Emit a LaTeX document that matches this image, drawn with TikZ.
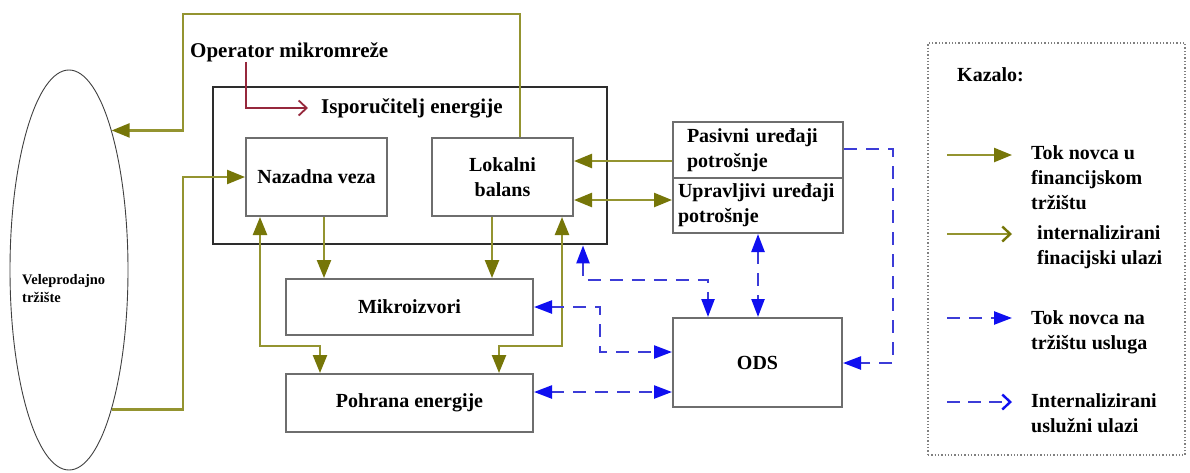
\documentclass[tikz,border=0pt]{standalone}
\usepackage{fontspec}
\setmainfont{Liberation Serif}
\usetikzlibrary{arrows.meta,shapes.geometric}
\definecolor{oliv}{RGB}{148,148,48}
\definecolor{olivtip}{RGB}{118,118,8}
\definecolor{bl}{RGB}{60,60,215}
\definecolor{bltip}{RGB}{15,15,240}
\definecolor{rd}{RGB}{150,40,60}
\definecolor{bxg}{RGB}{110,110,110}
\definecolor{bigg}{RGB}{45,45,45}
\tikzset{
  box/.style={draw=bxg, line width=2pt, fill=white, inner sep=0pt, align=center,
    font=\bfseries\fontsize{20}{25}\selectfont},
  lbl/.style={inner sep=0pt, align=left, font=\bfseries\fontsize{20}{25}\selectfont},
  gline/.style={draw=oliv, line width=2.4pt},
  garrow/.style={gline, -{Triangle[length=18pt,width=14pt,color=olivtip]}},
  gboth/.style={gline, {Triangle[length=18pt,width=14pt,color=olivtip]}-{Triangle[length=18pt,width=14pt,color=olivtip]}},
  bline/.style={draw=bl, line width=2.4pt, dash pattern=on 13pt off 9pt},
  barrow/.style={bline, -{Triangle[length=18pt,width=13pt,color=bltip]}},
  bboth/.style={bline, {Triangle[length=18pt,width=13pt,color=bltip]}-{Triangle[length=18pt,width=13pt,color=bltip]}},
}
\begin{document}
\begin{tikzpicture}[x=1pt,y=-1pt]
\useasboundingbox (0,0) rectangle (1190,472);
\fill[white] (0,0) rectangle (1190,472);

% wholesale market
\node[draw=black!75, line width=0.9pt, ellipse, minimum width=118pt, minimum height=400pt, inner sep=0pt] (wm) at (69,270) {};
\node[inner sep=0pt, align=left, anchor=west, font=\bfseries\fontsize{14.5}{18}\selectfont] (wmt) at (22,289) {Veleprodajno\\tržište};

% big box
\node[draw=bigg, line width=2.8pt, minimum width=394pt, minimum height=157pt, inner sep=0pt] (big) at (410,165.5) {};
\node[lbl, anchor=west, font=\bfseries\fontsize{21}{25}\selectfont] (om) at (190,52) {Operator mikromreže};
\node[lbl, anchor=west, font=\bfseries\fontsize{21}{25}\selectfont] (isp) at (321,108) {Isporučitelj energije};

% boxes
\node[box, minimum width=141pt, minimum height=78pt] (nv) at (316.5,177) {Nazadna veza};
\node[box, minimum width=141pt, minimum height=78pt] (lb) at (502.5,177) {Lokalni\\balans};
\node[box, minimum height=56pt, text width=142pt, inner xsep=14pt, align=left] (pas) at (758,150) {Pasivni uređaji\\potrošnje};
\node[box, minimum height=55pt, text width=160pt, inner xsep=5pt, align=left] (upr) at (758,205.5) {Upravljivi uređaji\\potrošnje};
\node[box, minimum width=247pt, minimum height=56pt] (mk) at (409.5,307) {Mikroizvori};
\node[box, minimum width=247pt, minimum height=58pt] (ph) at (409.5,403) {Pohrana energije};
\node[box, minimum width=169pt, minimum height=89pt] (ods) at (757.5,362.5) {ODS};

% red arrow
\draw[draw=rd, line width=1.8pt, -{Straight Barb[length=8pt,width=15pt]}] (om.south -| 246,0) |- ([xshift=-13pt]isp.west);

% olive connectors
\draw[garrow] ([xshift=17.5pt]lb.north) |- (183,14) |- (wm.73);
\coordinate (c1) at (183,177);
\draw[garrow] (wm.-73) -| (c1) -- (nv.west);
\draw[garrow] ([xshift=7.5pt]nv.south) -- ([xshift=7.5pt]nv.south |- mk.north);
\draw[garrow] ([xshift=-10.5pt]lb.south) -- ([xshift=-10.5pt]lb.south |- mk.north);
\coordinate (j1) at (260,346);
\coordinate (j2) at (320,346);
\draw[gboth] ([xshift=-56.5pt]nv.south) -- (j1) -- (j2) -- (j2 |- ph.north);
\coordinate (j3) at (562,346);
\coordinate (j4) at (499,346);
\draw[gboth] ([xshift=59.5pt]lb.south) -- (j3) -- (j4) -- (j4 |- ph.north);
\draw[garrow] (pas.west |- 0,161) -- (lb.east |- 0,161);
\draw[gboth] (upr.west |- 0,200) -- (lb.east |- 0,200);

% blue connectors
\coordinate (k1) at (583,280);
\draw[bboth] (big.south -| k1) -- (k1) -| (ods.north -| 708,0);
\draw[bboth] (upr.south) -- (ods.north -| upr.south);
\coordinate (k2) at (893,363);
\draw[barrow] (pas.east |- 0,149) -| (k2) -- (ods.east |- k2);
\coordinate (k3) at (600,352);
\draw[bboth] (mk.east) -| (k3) -- (ods.west |- k3);
\draw[bboth] (ph.east |- 0,392) -- (ods.west |- 0,392);

% legend
\node[draw=gray, line width=1.3pt, dotted, minimum width=257pt, minimum height=412pt, inner sep=0pt] (leg) at (1056.5,249) {};
\node[lbl, anchor=west] (kaz) at (957,75) {Kazalo:};
\coordinate (l1a) at (947,155); \coordinate (l1b) at (1012,155);
\draw[garrow] (l1a) -- (l1b);
\node[lbl, anchor=west] (t1) at (1031,178) {Tok novca u\\financijskom\\tržištu};
\coordinate (l2a) at (947,234); \coordinate (l2b) at (1012,234);
\draw[gline, -{Straight Barb[length=8pt,width=15pt,color=olivtip]}] (l2a) -- (l2b);
\node[lbl, anchor=west] (t2) at (1037,247) {internalizirani\\finacijski ulazi};
\coordinate (l3a) at (947,318); \coordinate (l3b) at (1012,318);
\draw[barrow] (l3a) -- (l3b);
\node[lbl, anchor=west] (t3) at (1031,332) {Tok novca na\\tržištu usluga};
\coordinate (l4a) at (947,402); \coordinate (l4b) at (1012,402);
\draw[bline, dash pattern=on 13pt off 8pt, -{Straight Barb[length=8pt,width=15pt,color=bltip]}] (l4a) -- (l4b);
\node[lbl, anchor=west] (t4) at (1031,413) {Internalizirani\\uslužni ulazi};
\end{tikzpicture}
\end{document}
